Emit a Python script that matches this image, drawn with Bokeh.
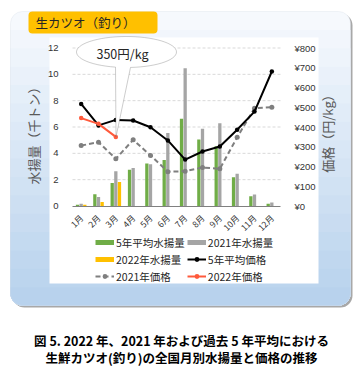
import math
from bokeh.plotting import figure
from bokeh.models import (Range1d, LinearAxis, FixedTicker, BoxAnnotation, Label,
                          PolyAnnotation, Legend, LegendItem, ColumnDataSource)
from bokeh.transform import dodge
from bokeh.embed import file_html
from bokeh.resources import INLINE

# ---------------- data ----------------
months = ["1月", "2月", "3月", "4月", "5月", "6月", "7月", "8月", "9月", "10月", "11月", "12月"]
month_num = [1, 2, 3, 4, 5, 6, 7, 8, 9, 10, 11, 12]
avg5_catch = [0.10, 0.90, 1.75, 2.76, 3.23, 3.50, 6.62, 5.05, 4.54, 2.19, 0.75, 0.17]
catch_2021 = [0.17, 0.68, 2.63, 2.88, 3.18, 5.54, 10.46, 5.86, 6.29, 2.44, 0.87, 0.27]
month_num_2022 = [1, 2, 3]
catch_2022 = [0.10, 0.30, 1.83]
avg5_price = [517, 408, 436, 433, 399, 332, 235, 276, 301, 386, 478, 681]
price_2021 = [306, 323, 239, 335, 256, 174, 176, 195, 188, 348, 495, 500]
price_2022 = [445, 416, 350]
qty_ticks = [0, 2, 4, 6, 8, 10, 12]
price_ticks = [0, 100, 200, 300, 400, 500, 600, 700, 800]
price_tick_labels = ["¥0", "¥100", "¥200", "¥300", "¥400", "¥500", "¥600", "¥700", "¥800"]
callout_text = "350円/kg"
title_text = "生カツオ（釣り）"
left_label = "水揚量（千トン）"
right_label = "価格（円/kg）"
caption_1 = "図 5. 2022 年、2021 年および過去 5 年平均における"
caption_2 = "生鮮カツオ(釣り)の全国月別水揚量と価格の推移"

GREEN = "#70AD47"
GRAY = "#A5A5A5"
YELLOW = "#FFC000"
BLACK = "#000000"
DGRAY = "#7F7F7F"
RED = "#FF5A3C"
JP = "Noto Sans CJK JP"

# ---------------- figure (frame = whole canvas) ----------------
W, H = 363, 373
PL, PR, PT, PB = 72.0, 280.0, 47.5, 205.5      # plot area in canvas pixels
QMAX, PMAX = 12.0, 800.0
ux = (PR - PL) / 12.0
uy = (PB - PT) / QMAX
x_start = 0.5 - PL / ux
x_end = 12.5 + (W - PR) / ux
y_start = -(H - PB) / uy
y_end = QMAX + PT / uy
k = PMAX / QMAX

p = figure(width=W, height=H, x_range=Range1d(x_start, x_end), y_range=Range1d(y_start, y_end),
           output_backend="svg", toolbar_location=None, min_border=0,
           x_axis_location=None, y_axis_location=None)
p.extra_y_ranges = {"price": Range1d(y_start * k, y_end * k)}
p.outline_line_color = None
p.background_fill_color = "white"
p.border_fill_color = "white"
p.xgrid.visible = False
p.ygrid.visible = False

def X(ix):
    return ix
def Y(iy):
    return H - iy

# ---------------- background decoration ----------------
def box(l, t, r, b, **kw):
    ba = BoxAnnotation(left=X(l), right=X(r), top=Y(t), bottom=Y(b),
                       left_units="screen", right_units="screen",
                       top_units="screen", bottom_units="screen",
                       level="image", **kw)
    p.add_layout(ba)
    return ba

box(12, 13, 352, 307, fill_color="#A8A8A8", fill_alpha=1, line_color=None, border_radius=12)
top_c = (246, 249, 253)
bot_c = (184, 210, 237)
box(10, 11, 350, 305, fill_color="#%02x%02x%02x" % top_c, fill_alpha=1, line_color=None, border_radius=12)
N = 16
for i in range(1, N):
    f = i / (N - 1)
    c = tuple(int(round(top_c[j] + (bot_c[j] - top_c[j]) * f)) for j in range(3))
    t = 11 + 294 * i / N
    box(10, t, 350, 305, fill_color="#%02x%02x%02x" % c, fill_alpha=1, line_color=None,
        border_radius=(0, 0, 12, 12))
box(10, 11, 350, 305, fill_alpha=0, line_color="#D3DCE6", line_width=1, border_radius=12)
box(49, 37, 318, 283, fill_color="white", fill_alpha=1, line_color=None)
box(28, 11, 157, 33, fill_color=YELLOW, fill_alpha=1, line_color=None, border_radius=4)
p.add_layout(Label(x=X(35), y=Y(22), x_units="screen", y_units="screen", text=title_text,
                   text_font=JP, text_font_size="12.5px", text_color="#262626",
                   text_align="left", text_baseline="middle"))

# ---------------- grid ----------------
grid_vals = [v for v in qty_ticks if v > 0]
p.segment(x0=0.5, x1=12.5, y0=grid_vals, y1=grid_vals, line_color="#D9D9D9",
          line_width=1, line_dash="3 2")

# ---------------- axes ----------------
la = LinearAxis(fixed_location=0.5, bounds=(0, QMAX), ticker=FixedTicker(ticks=qty_ticks))
la.axis_line_color = None
la.major_tick_line_color = None
la.minor_tick_line_color = None
la.major_label_standoff = 8
la.major_label_text_font = "Liberation Sans"
la.major_label_text_font_size = "9.5px"
la.major_label_text_color = "#333333"
p.add_layout(la, "left")

ba_ = LinearAxis(fixed_location=0, bounds=(0.5, 12.5), ticker=FixedTicker(ticks=month_num),
                 major_label_overrides=dict(zip(month_num, months)))
ba_.major_label_orientation = math.pi / 4
ba_.major_tick_line_color = None
ba_.minor_tick_line_color = None
ba_.axis_line_color = "#808080"
ba_.major_label_text_font = JP
ba_.major_label_text_font_size = "8.5px"
ba_.major_label_text_color = "#333333"
ba_.major_label_standoff = 4
p.add_layout(ba_, "below")

ra = LinearAxis(y_range_name="price", fixed_location=12.5, bounds=(0, PMAX),
                ticker=FixedTicker(ticks=price_ticks),
                major_label_overrides=dict(zip(price_ticks, price_tick_labels)))
ra.axis_line_color = None
ra.major_tick_line_color = None
ra.minor_tick_line_color = None
ra.major_label_standoff = 8
ra.major_label_text_font = "Liberation Sans"
ra.major_label_text_font_size = "9.5px"
ra.major_label_text_color = "#333333"
p.add_layout(ra, "right")

p.add_layout(Label(x=X(33), y=Y(132), x_units="screen", y_units="screen", text=left_label,
                   angle=math.pi / 2, text_font=JP, text_font_size="13px", text_color="#595959",
                   text_align="center", text_baseline="middle"))
p.add_layout(Label(x=X(327), y=Y(130), x_units="screen", y_units="screen", text=right_label,
                   angle=math.pi / 2, text_font=JP, text_font_size="13px", text_color="#595959",
                   text_align="center", text_baseline="middle"))

# ---------------- data glyphs ----------------
src = ColumnDataSource(dict(m=month_num, avg=avg5_catch, y21=catch_2021,
                            pavg=avg5_price, p21=price_2021))
src22 = ColumnDataSource(dict(m=month_num_2022, c22=catch_2022, p22=price_2022))

p.vbar(x=dodge("m", -0.21), top="avg", width=0.19, source=src, fill_color=GREEN, line_color=None)
p.vbar(x=dodge("m", 0.0), top="y21", width=0.19, source=src, fill_color=GRAY, line_color=None)
p.vbar(x=dodge("m", 0.21), top="c22", width=0.19, source=src22, fill_color=YELLOW, line_color=None)

l21 = p.line("m", "p21", source=src, y_range_name="price", line_color=DGRAY,
             line_width=2, line_dash="5 3")
s21 = p.scatter("m", "p21", source=src, y_range_name="price", size=5,
                fill_color=DGRAY, line_color=None)
lavg = p.line("m", "pavg", source=src, y_range_name="price", line_color=BLACK, line_width=2)
savg = p.scatter("m", "pavg", source=src, y_range_name="price", size=4.5,
                 fill_color=BLACK, line_color=None)
l22 = p.line("m", "p22", source=src22, y_range_name="price", line_color=RED, line_width=2)
s22 = p.scatter("m", "p22", source=src22, y_range_name="price", size=4.5,
                fill_color=RED, line_color=None)

# ---------------- callout ----------------
cx, cy, a, b = 126.0, 51.5, 50.0, 15.5
t_left = math.acos((115 - cx) / a)
t_right = math.acos((130 - cx) / a) + 2 * math.pi
xs, ys = [], []
n = 60
for i in range(n + 1):
    t = t_left + (t_right - t_left) * i / n
    xs.append(X(cx + a * math.cos(t)))
    ys.append(Y(cy + b * math.sin(t)))
xs.append(X(115.5))
ys.append(Y(136.5))
p.add_layout(PolyAnnotation(xs=xs, ys=ys, xs_units="screen", ys_units="screen",
                            fill_color="white", fill_alpha=1, line_color="#595959", line_width=1))
p.add_layout(Label(x=X(122), y=Y(53), x_units="screen", y_units="screen", text=callout_text,
                   text_font=JP, text_font_size="12.5px", text_color="#262626",
                   text_align="center", text_baseline="middle"))

# ---------------- legend ----------------
# legend-only swatches for the bar series (no visible marks: NaN values)
sw_src = ColumnDataSource(dict(x=[1], y=[float("nan")]))
sw_green = p.line("x", "y", source=sw_src, line_color=GREEN, line_width=5)
sw_gray = p.line("x", "y", source=sw_src, line_color=GRAY, line_width=5)
sw_yellow = p.line("x", "y", source=sw_src, line_color=YELLOW, line_width=5)
legend = Legend(items=[
    LegendItem(label="5年平均水揚量", renderers=[sw_green]),
    LegendItem(label="2021年水揚量", renderers=[sw_gray]),
    LegendItem(label="2022年水揚量", renderers=[sw_yellow]),
    LegendItem(label="5年平均価格", renderers=[lavg, savg]),
    LegendItem(label="2021年価格", renderers=[l21, s21]),
    LegendItem(label="2022年価格", renderers=[l22, s22]),
], location=(X(95), Y(283.5)), orientation="horizontal", ncols=2,
   glyph_width=19, glyph_height=12, label_height=12, label_standoff=2, spacing=2,
   padding=0, margin=0, background_fill_alpha=0, border_line_color=None,
   label_text_font=JP, label_text_font_size="10.5px", label_text_color="#262626")
p.add_layout(legend)

# ---------------- caption ----------------
for txt, iy in ((caption_1, 340), (caption_2, 357)):
    p.add_layout(Label(x=X(181), y=Y(iy), x_units="screen", y_units="screen", text=txt,
                       text_font=JP, text_font_size="12.5px", text_font_style="bold",
                       text_color="#000000", text_align="center", text_baseline="middle"))

open("out.html", "w").write(file_html(p, INLINE))
